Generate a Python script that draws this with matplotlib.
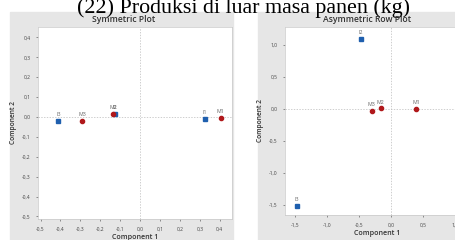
import matplotlib
matplotlib.use('Agg')
import matplotlib.pyplot as plt
from matplotlib.patches import Rectangle
from matplotlib.ticker import FuncFormatter, MultipleLocator

# Symmetric plot: rows (red circles) and columns (blue squares)
sym_row_labels = ['M1', 'M2', 'M3']
sym_row_x = [0.405, -0.135, -0.29]
sym_row_y = [-0.005, 0.015, -0.02]
sym_col_labels = ['I1', 'I2', 'I3']
sym_col_x = [0.325, -0.125, -0.41]
sym_col_y = [-0.01, 0.015, -0.02]

# Asymmetric row plot
asy_row_labels = ['M1', 'M2', 'M3']
asy_row_x = [0.39, -0.16, -0.30]
asy_row_y = [0.0, 0.01, -0.03]
asy_col_labels = ['I2', 'I3']
asy_col_x = [-0.47, -1.47]
asy_col_y = [1.10, -1.51]

sym_ticks = [-0.5, -0.4, -0.3, -0.2, -0.1, 0.0, 0.1, 0.2, 0.3, 0.4]
asy_ticks = [-1.5, -1.0, -0.5, 0.0, 0.5, 1.0]

W, H = 456, 240
BG = '#e6e6e6'
RED = '#b0181b'
BLUE = '#1f5fae'
plt.rcParams['font.family'] = ['Open Sans', 'DejaVu Sans']

fig = plt.figure(figsize=(W / 100, H / 100), dpi=100)


def px(x0, y0, x1, y1):
    # pixel box (top-left origin) -> figure fraction
    return [x0 / W, 1 - y1 / H, (x1 - x0) / W, (y1 - y0) / H]


# gray panels (behind the axes)
for x0, x1 in [(10, 233), (258, 470)]:
    fig.patches.append(Rectangle((x0 / W, 0), (x1 - x0) / W, 1 - 12 / H,
                                 transform=fig.transFigure, color=BG, zorder=-5))

comma = FuncFormatter(lambda v, p: f'{v:.1f}'.replace('.', ','))


def style(ax, ticks, title, tx, ylpad):
    ax.set_facecolor('white')
    ax.set_zorder(2)
    ax.xaxis.set_major_locator(MultipleLocator(ticks[1] - ticks[0]))
    ax.yaxis.set_major_locator(MultipleLocator(ticks[1] - ticks[0]))
    ax.xaxis.set_major_formatter(comma)
    ax.yaxis.set_major_formatter(comma)
    ax.tick_params(labelsize=3.6, colors='#444444', length=1.5, width=0.4, pad=4)
    for s in ax.spines.values():
        s.set_color('#c8c8c8')
        s.set_linewidth(0.5)
    ax.axhline(0, color='#bbbbbb', lw=0.5, ls=(0, (2, 2)), zorder=1)
    ax.axvline(0, color='#bbbbbb', lw=0.5, ls=(0, (2, 2)), zorder=1)
    ax.set_xlabel('Component 1', fontsize=5.1, color='#333333', labelpad=2, fontweight='semibold')
    ax.set_ylabel('Component 2', fontsize=4.8, color='#333333', labelpad=ylpad, fontweight='semibold')
    fig.text(tx / W, 1 - 20 / H, title, ha='center', va='center', fontsize=6.2,
             color='#333333', fontweight='semibold', zorder=11)


def draw(ax, lx, ly, llab, marker, color, ms):
    ax.plot(lx, ly, ls='none', marker=marker, color=color, ms=ms, zorder=3)
    for x, y, t in zip(lx, ly, llab):
        ax.annotate(t, (x, y), xytext=(0, 2.5), textcoords='offset points',
                    ha='center', va='bottom', fontsize=3.8, color='#666666')


ax1 = fig.add_axes(px(38, 27, 232, 219))
ax1.set_xlim(-0.513, 0.462)
ax1.set_ylim(-0.513, 0.452)
style(ax1, sym_ticks, 'Symmetric Plot', 124, 3.5)
draw(ax1, sym_col_x, sym_col_y, sym_col_labels, 's', BLUE, 2.6)
draw(ax1, sym_row_x, sym_row_y, sym_row_labels, 'o', RED, 3.0)

ax2 = fig.add_axes(px(285, 27, 470, 215))
ax2.set_xlim(-1.656, 1.234)
ax2.set_ylim(-1.656, 1.28)
style(ax2, asy_ticks, 'Asymmetric Row Plot', 367, 3.5)
draw(ax2, asy_col_x, asy_col_y, asy_col_labels, 's', BLUE, 2.6)
draw(ax2, asy_row_x, asy_row_y, asy_row_labels, 'o', RED, 3.0)

fig.text(244 / W, 1 - 12.5 / H, '(22) Produksi di luar masa panen (kg)',
         ha='center', va='baseline', fontsize=15.8, family='Liberation Serif',
         color='black', zorder=10)

fig.savefig('out.png', dpi=100)
